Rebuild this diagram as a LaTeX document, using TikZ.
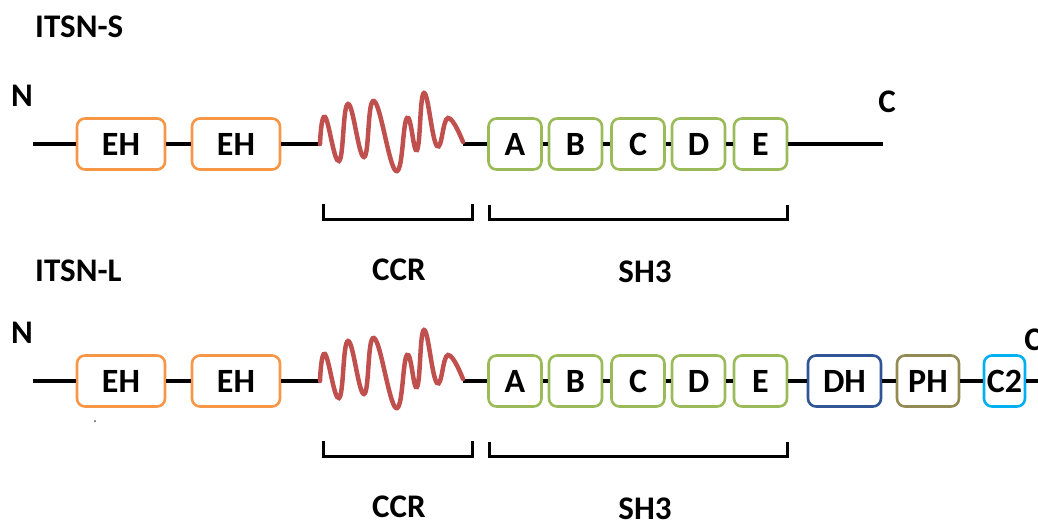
\documentclass[tikz,border=0pt]{standalone}
\usepackage{fontspec}
\setmainfont{Carlito}
\definecolor{ehorange}{HTML}{F79646}
\definecolor{shgreen}{HTML}{9BBB59}
\definecolor{ccrred}{HTML}{C0504D}
\definecolor{dhblue}{HTML}{2F5597}
\definecolor{pholive}{HTML}{948A54}
\definecolor{ctwocyan}{HTML}{00B0F0}
\tikzset{
  dombox/.style={draw, line width=2.6pt, rounded corners=8pt, fill=white,
    minimum height=51pt, inner sep=0pt, font=\fontsize{34}{38}\selectfont\bfseries},
  ehbox/.style={dombox, draw=ehorange, minimum width=88pt},
  shbox/.style={dombox, draw=shgreen, minimum width=53pt},
  dhbox/.style={dombox, draw=dhblue, minimum width=73pt},
  phbox/.style={dombox, draw=pholive, minimum width=62pt},
  ctwobox/.style={dombox, draw=ctwocyan, minimum width=41pt, text width=41pt, align=center},
  backbone/.style={line width=4pt, black},
  coilline/.style={line width=4.5pt, ccrred, line cap=round},
  bracketline/.style={line width=3pt, black},
  txtlab/.style={font=\fontsize{33}{37}\selectfont\bfseries, inner sep=0pt},
}
% One protein row: N-terminus, two EH domains, coiled-coil region, five SH3 domains
\newcommand\proteinrow[1]{%
  \node[txtlab] (#1N) at (22,96) {N};
  \coordinate (#1start) at (33,144);
  \node[ehbox] (#1eh1) at (121,144) {EH};
  \node[ehbox] (#1eh2) at (236,144) {EH};
  \coordinate (#1ccrin) at (320,144);
  \coordinate (#1ccrout) at (463,144);
  \node[shbox] (#1a) at (515,144) {A};
  \node[shbox] (#1b) at (575.5,144) {B};
  \node[shbox] (#1c) at (638,144) {C};
  \node[shbox] (#1d) at (698.5,144) {D};
  \node[shbox] (#1e) at (760.5,144) {E};
  \draw[backbone] (#1start) -- (#1eh1.west);
  \draw[backbone] (#1eh1.east) -- (#1eh2.west);
  \draw[backbone] (#1eh2.east) -- (#1ccrin);
  \draw[backbone] (#1ccrout) -- (#1a.west);
  \draw[backbone] (#1a.east) -- (#1b.west);
  \draw[backbone] (#1b.east) -- (#1c.west);
  \draw[backbone] (#1c.east) -- (#1d.west);
  \draw[backbone] (#1d.east) -- (#1e.west);
  \draw[coilline] plot[smooth, tension=0.75] coordinates {
    (320,144) (325,117) (339,161) (348,104) (364,157) (374,101)
    (396,171) (407,118) (417,150) (424,93) (437,146) (448,118) (463,142)};
  \draw[bracketline] (323,204) -- (323,219) -- (472,219) -- (472,204);
  \draw[bracketline] (489,205) -- (489,219) -- (787,219) -- (787,205);
  \node[txtlab] (#1ccrlab) at (399,270) {CCR};
  \node[txtlab] (#1shlab) at (645,272) {SH3};
}
\begin{document}
\begin{tikzpicture}[x=1pt,y=-1pt]
\useasboundingbox (0,0) rectangle (1038,522);
% short isoform
\node[txtlab, anchor=west] (stitle) at (35,27) {ITSN-S};
\proteinrow{s}
\coordinate (send) at (883,144);
\draw[backbone] (se.east) -- (send);
\node[txtlab] (sC) at (887,102) {C};
% long isoform
\node[txtlab, anchor=west] (ltitle) at (35,271) {ITSN-L};
\begin{scope}[yshift=-237pt]
  \proteinrow{l}
  \node[dhbox] (ldh) at (844.5,144) {DH};
  \node[phbox] (lph) at (928,144) {PH};
  \node[ctwobox] (lc2) at (1004.5,144) {C2};
  \coordinate (lend) at (1045,144);
  \draw[backbone] (le.east) -- (ldh.west);
  \draw[backbone] (ldh.east) -- (lph.west);
  \draw[backbone] (lph.east) -- (lc2.west);
  \draw[backbone] (lc2.east) -- (lend);
  \node[txtlab] (lC) at (1033,103) {C};
\end{scope}
\fill[black!70] (95,421) circle (1pt);
\end{tikzpicture}
\end{document}
